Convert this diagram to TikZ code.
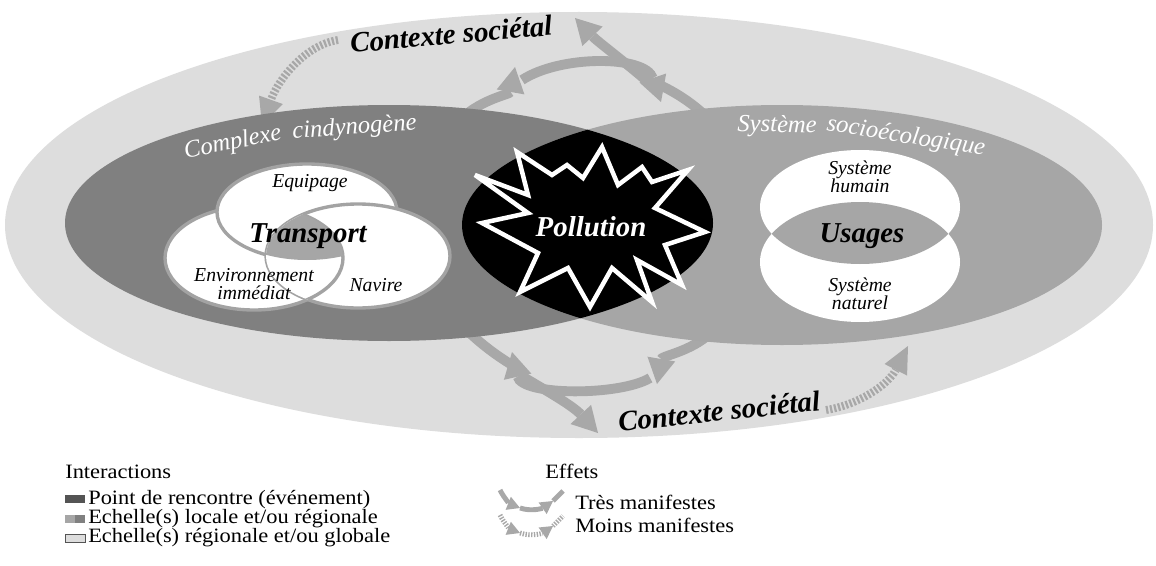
\documentclass[tikz,border=0pt]{standalone}
\usepackage{fontspec}
\setmainfont{Liberation Serif}
\newfontfamily\keyfamily[FakeStretch=1.1]{Liberation Serif}
\usetikzlibrary{arrows.meta}

\definecolor{ctxgray}{gray}{0.865}
\definecolor{riskgray}{gray}{0.5}
\definecolor{sesgray}{gray}{0.65}
\definecolor{effgray}{gray}{0.66}
\definecolor{vennline}{gray}{0.64}
\definecolor{keydark}{gray}{0.33}

\newcommand\ctxlabelfont{\fontsize{20.5}{24}\selectfont\bfseries\itshape}
\newcommand\corefont{\fontsize{20.5}{24}\selectfont\bfseries\itshape}
\newcommand\vennlabelfont{\fontsize{14}{13}\selectfont\itshape}
\newcommand\arclabelfont{\fontsize{17.5}{20}\selectfont\itshape}
\newcommand\keylabelfont{\keyfamily\fontsize{14.5}{17}\selectfont}

\begin{document}
\begin{tikzpicture}[x=0.025cm,y=-0.025cm,
    effline/.style={draw=effgray,line width=7pt},
    effarrow/.style={effline,-{Triangle[length=18pt,width=20pt,line width=0pt]}},
    weakarrow/.style={draw=effgray,line width=5.6pt,dash pattern=on 1.6pt off 1.3pt,
        -{Triangle[length=19pt,width=18pt,line width=0pt]}},
    keyline/.style={draw=effgray,line width=3.5pt},
    keyarrow/.style={keyline,-{Triangle[length=9pt,width=10pt,line width=0pt]}},
    keyweak/.style={keyarrow,dash pattern=on 1pt off 1pt},
    vennpart/.style={fill=white,draw=vennline,line width=2.4pt},
    ctxlabel/.style={font=\ctxlabelfont,anchor=base,inner sep=0pt},
    arclabel/.style={font=\arclabelfont,text=white,anchor=base,inner sep=0pt},
    corelabel/.style={font=\corefont,inner sep=0pt},
    vennlabel/.style={font=\vennlabelfont,align=center,inner sep=0pt},
    keytext/.style={font=\keylabelfont,anchor=west,inner sep=0pt}]
    \useasboundingbox (0,0) rectangle (1156,565);
    \fill[white] (0,0) rectangle (1156,565);

    % contexte societal
    \fill[ctxgray] (579,225) ellipse (574 and 213);

    % effets tres manifestes: boucle du haut
    \coordinate (tA0) at (452,130);
    \coordinate (tA1) at (515,67);
    \coordinate (tB0) at (522,80);
    \coordinate (tB1) at (661,102);
    \coordinate (tC0) at (662,86);
    \coordinate (tC1) at (712,122);
    \coordinate (tD0) at (648,82);
    \coordinate (tD1) at (575,18);
    \draw[effarrow] (tA0) .. controls (472,100) and (510,95) .. (tA1);
    \draw[effarrow] (tB0) .. controls (560,55) and (645,55) .. (tB1);
    \draw[effline] (tC0) .. controls (680,95) and (695,105) .. (tC1);
    \draw[effarrow] (tD0) .. controls (625,62) and (598,42) .. (tD1);

    % effets tres manifestes: boucle du bas
    \coordinate (bE0) at (722,318);
    \coordinate (bE1) at (657,384);
    \coordinate (bF0) at (650,378);
    \coordinate (bF1) at (512,352);
    \coordinate (bG0) at (517,368);
    \coordinate (bG1) at (455,318);
    \coordinate (bH0) at (520,375);
    \coordinate (bH1) at (598,433);
    \draw[effarrow] (bE0) .. controls (705,350) and (662,355) .. (bE1);
    \draw[effarrow] (bF0) .. controls (620,396) and (522,396) .. (bF1);
    \draw[effline] (bG0) .. controls (495,355) and (475,340) .. (bG1);
    \draw[effarrow] (bH0) .. controls (545,390) and (572,405) .. (bH1);

    % effets moins manifestes
    \coordinate (wT0) at (338,40);
    \coordinate (wT1) at (262,125);
    \coordinate (wB0) at (826,410);
    \coordinate (wB1) at (908,346);
    \draw[weakarrow] (wT0) .. controls (305,45) and (278,80) .. (wT1);
    \draw[weakarrow] (wB0) .. controls (858,405) and (888,385) .. (wB1);

    % complexe cindynogene et systeme socioecologique
    \fill[riskgray] (389,223) ellipse (324 and 118);
    \fill[sesgray] (782,225) ellipse (320 and 120);
    \begin{scope}
        \clip (389,223) ellipse (324 and 118);
        \fill[black] (782,225) ellipse (320 and 120);
    \end{scope}

    % pollution
    \filldraw[fill=black,draw=white,line width=3.2pt,miter limit=4]
        (475,175) -- (528,195) -- (517,152) -- (552,175) -- (567,165) -- (583,178)
        -- (602,147) -- (618,185) -- (642,167) -- (652,182) -- (688,170) -- (655,208)
        -- (705,232) -- (665,245) -- (682,285) -- (637,260) -- (652,302) -- (612,268)
        -- (590,307) -- (568,268) -- (520,292) -- (538,253) -- (482,223) -- (528,213)
        -- cycle;
    \node[corelabel,white] (pollution) at (591,227) {Pollution};

    % transport
    \filldraw[vennpart] (254,258) ellipse (89 and 52);
    \filldraw[vennpart] (307,212) ellipse (90 and 48);
    \filldraw[vennpart] (358,256) ellipse (92 and 52);
    \begin{scope}
        \clip (358,256) ellipse (92 and 52);
        \filldraw[vennpart] (254,258) ellipse (89 and 52);
    \end{scope}
    \begin{scope}
        \clip (254,258) ellipse (89 and 52);
        \clip (307,212) ellipse (90 and 48);
        \fill[sesgray] (358,256) ellipse (92 and 52);
    \end{scope}
    \node[vennlabel] (equipage) at (310,183) {Equipage};
    \node[corelabel] (transport) at (308,236) {Transport};
    \node[vennlabel] (environnement) at (254,284) {Environnement\\immédiat};
    \node[vennlabel] (navire) at (376,285) {Navire};

    % usages
    \fill[white] (860,207) ellipse (100 and 57);
    \fill[white] (860,262) ellipse (100 and 60);
    \begin{scope}
        \clip (860,207) ellipse (100 and 57);
        \fill[sesgray] (860,262) ellipse (100 and 60);
    \end{scope}
    \node[vennlabel] (humain) at (860,177) {Système\\humain};
    \node[corelabel] (usages) at (862,236) {Usages};
    \node[vennlabel] (naturel) at (860,294) {Système\\naturel};

    % titres
    \node[arclabel,rotate=11] (complexe) at (234,149) {Complexe};
    \node[arclabel,rotate=4] (cindynogene) at (355,134) {cindynogène};
    \node[arclabel,rotate=-1] (systeme) at (777,132) {Système};
    \node[arclabel,rotate=-9] (socioeco) at (905,143) {socioécologique};
    \node[ctxlabel,rotate=5] (ctxtop) at (452,44) {Contexte sociétal};
    \node[ctxlabel,rotate=6] (ctxbottom) at (720,421) {Contexte sociétal};

    % legende
    \node[keytext] (interactions) at (65,472) {Interactions};
    \fill[keydark] (65,495) rectangle (85,503);
    \node[keytext] (rencontre) at (88,500) {Point de rencontre (événement)};
    \fill[sesgray] (65,515) rectangle (75,523);
    \fill[riskgray] (75,515) rectangle (85,523);
    \node[keytext] (locale) at (88,519) {Echelle(s) locale et/ou régionale};
    \filldraw[fill=ctxgray,draw=keydark,line width=0.6pt] (65,534) rectangle (85,542);
    \node[keytext] (globale) at (88,538) {Echelle(s) régionale et/ou globale};

    \node[keytext] (effets) at (545,471) {Effets};
    \draw[keyarrow] (500,490) .. controls (504,498) and (510,504) .. (520,508);
    \draw[keyarrow] (520,508) .. controls (532,512) and (543,508) .. (553,501);
    \draw[keyline] (553,501) -- (563,491);
    \node[keytext] (tres) at (575,502) {Très manifestes};
    \draw[keyweak] (500,515) .. controls (504,523) and (510,529) .. (520,533);
    \draw[keyweak] (520,533) .. controls (532,537) and (543,533) .. (553,526);
    \draw[keyline,dash pattern=on 1pt off 1pt] (553,526) -- (563,516);
    \node[keytext] (moins) at (575,525) {Moins manifestes};
\end{tikzpicture}
\end{document}
